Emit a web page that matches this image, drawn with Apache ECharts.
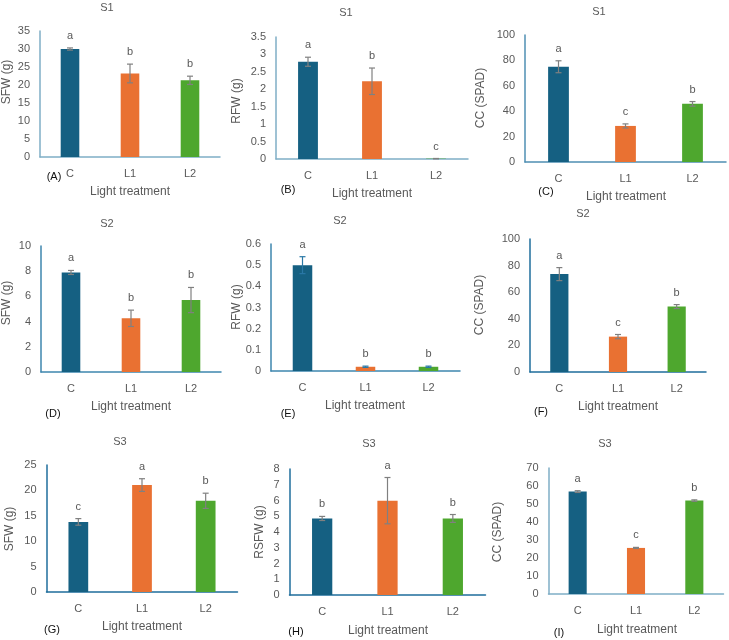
<!DOCTYPE html>
<html><head><meta charset="utf-8">
<script src="https://cdn.jsdelivr.net/npm/echarts@6/dist/echarts.min.js"></script>
<style>html,body{margin:0;padding:0;background:#fff}#c{width:729px;height:640px}</style>
</head><body><div id="c"></div>
<script>
// ---------- data ----------
const categories = ['C', 'L1', 'L2'];
const panelTags = ['(A)', '(B)', '(C)', '(D)', '(E)', '(F)', '(G)', '(H)', '(I)'];
const panelTitles = ['S1', 'S1', 'S1', 'S2', 'S2', 'S2', 'S3', 'S3', 'S3'];
const yNames = ['SFW (g)', 'RFW (g)', 'CC (SPAD)', 'SFW (g)', 'RFW (g)', 'CC (SPAD)', 'SFW (g)', 'RSFW (g)', 'CC (SPAD)'];
const xName = 'Light treatment';

const sfwS1 = [30.0, 23.2, 21.3];   const sfwS1Err = [0.3, 2.6, 1.15];  const sfwS1Let = ['a', 'b', 'b'];
const rfwS1 = [2.79, 2.23, 0.01];   const rfwS1Err = [0.13, 0.38, 0.005]; const rfwS1Let = ['a', 'b', 'c'];
const ccS1  = [75.0, 28.4, 45.8];   const ccS1Err  = [4.7, 1.6, 1.8];   const ccS1Let  = ['a', 'c', 'b'];
const sfwS2 = [7.9, 4.26, 5.71];    const sfwS2Err = [0.16, 0.65, 1.0]; const sfwS2Let = ['a', 'b', 'b'];
const rfwS2 = [0.50, 0.02, 0.02];   const rfwS2Err = [0.04, 0.003, 0.003]; const rfwS2Let = ['a', 'b', 'b'];
const ccS2  = [73.6, 26.6, 49.2];   const ccS2Err  = [4.9, 1.6, 1.5];   const ccS2Let  = ['a', 'c', 'b'];
const sfwS3 = [13.8, 21.05, 17.95]; const sfwS3Err = [0.65, 1.25, 1.5]; const sfwS3Let = ['c', 'a', 'b'];
const rsfwS3 = [4.86, 5.99, 4.86];  const rsfwS3Err = [0.13, 1.47, 0.25]; const rsfwS3Let = ['b', 'a', 'b'];
const ccS3  = [56.9, 25.6, 51.9];   const ccS3Err  = [0.5, 0.3, 0.4];   const ccS3Let  = ['a', 'c', 'b'];

const yMaxes = [35, 3.5, 100, 10, 0.6, 100, 25, 8, 70];
const yIntervals = [5, 0.5, 20, 2, 0.1, 20, 5, 1, 10];

const means = [sfwS1, rfwS1, ccS1, sfwS2, rfwS2, ccS2, sfwS3, rsfwS3, ccS3];
const errs = [sfwS1Err, rfwS1Err, ccS1Err, sfwS2Err, rfwS2Err, ccS2Err, sfwS3Err, rsfwS3Err, ccS3Err];
const lets = [sfwS1Let, rfwS1Let, ccS1Let, sfwS2Let, rfwS2Let, ccS2Let, sfwS3Let, rsfwS3Let, ccS3Let];

// ---------- layout / style ----------
const barColors = ['#156082', '#E97132', '#4EA72E'];
const grids = [
  {left: 40, top: 31, width: 180, height: 126},
  {left: 276, top: 37, width: 192, height: 122},
  {left: 525, top: 35, width: 201, height: 127},
  {left: 41, top: 246, width: 180, height: 126},
  {left: 271, top: 244, width: 189, height: 127},
  {left: 530, top: 239, width: 176, height: 133},
  {left: 46.5, top: 465, width: 191, height: 127},
  {left: 289.5, top: 469, width: 196, height: 126},
  {left: 548.5, top: 468, width: 175, height: 126}
];
const axisColors = ['#7FAEC6', '#7FAEC6', '#4F8FB3', '#3E86AE', '#3E86AE', '#1F6E9C', '#1F6E9C', '#1F6E9C', '#7FAEC6'];
const errColors = ['#808080', '#808080', '#808080', '#808080', '#2A78A6', '#808080', '#808080', '#808080', '#808080'];
const titlePos = [[107, 8], [346, 13], [599, 12], [107, 224], [340, 221], [583, 214], [120, 442], [369, 444], [605, 444]];
const yNamePos = [[7, 82], [237, 101], [481, 98], [7, 303], [237, 307], [480, 305], [10, 529], [260, 532], [498, 532]];
const xNamePos = [[130, 192], [372, 194], [626, 197], [131, 407], [365, 406], [618, 407], [142, 627], [388, 631], [637, 630]];
const tagPos = [[54, 177], [288, 190], [546, 192], [53, 414], [288, 414], [541, 412], [52, 630], [296, 632], [559, 633]];

const FONT = '"Liberation Sans", Arial, sans-serif';
const TXT = '#595959';

const chart = echarts.init(document.getElementById('c'), null, {renderer: 'canvas'});
const option = {
  animation: false,
  backgroundColor: '#fff',
  textStyle: {fontFamily: FONT},
  grid: grids.map(g => Object.assign({containLabel: false}, g)),
  xAxis: grids.map((g, i) => ({
    type: 'category', gridIndex: i, data: categories,
    axisLine: {lineStyle: {color: axisColors[i], width: 1.5}},
    axisTick: {show: false},
    axisLabel: {color: TXT, fontSize: 11, margin: 11, fontFamily: FONT}
  })),
  yAxis: grids.map((g, i) => ({
    type: 'value', gridIndex: i, min: 0, max: yMaxes[i], interval: yIntervals[i],
    axisLine: {show: true, lineStyle: {color: axisColors[i], width: 1.5}},
    axisTick: {show: false},
    splitLine: {show: false},
    axisLabel: {color: TXT, fontSize: 11, margin: 10, fontFamily: FONT}
  })),
  series: [],
  graphic: []
};

means.forEach((vals, i) => {
  option.series.push({
    type: 'bar', xAxisIndex: i, yAxisIndex: i, barWidth: '31%',
    data: vals.map((v, k) => ({value: v, itemStyle: {color: barColors[k]}})),
    z: 2
  });
  option.series.push({
    type: 'custom', xAxisIndex: i, yAxisIndex: i, z: 5,
    data: vals.map((v, k) => [k, v, errs[i][k], lets[i][k]]),
    renderItem: (params, api) => {
      const k = api.value(0), m = api.value(1), e = api.value(2);
      const top = api.coord([k, m + e]);
      const bot = api.coord([k, Math.max(0, m - e)]);
      const x = top[0], c = 3;
      const st = {stroke: errColors[i], lineWidth: 1.2};
      return {type: 'group', children: [
        {type: 'line', shape: {x1: x, y1: top[1], x2: x, y2: bot[1]}, style: st},
        {type: 'line', shape: {x1: x - c, y1: top[1], x2: x + c, y2: top[1]}, style: st},
        {type: 'line', shape: {x1: x - c, y1: bot[1], x2: x + c, y2: bot[1]}, style: st},
        {type: 'text', x: x, y: top[1] - 12, style: {text: lets[i][k], fill: TXT, fontSize: 11, fontFamily: FONT, align: 'center', verticalAlign: 'middle'}}
      ]};
    }
  });
  option.graphic.push(
    {type: 'text', x: titlePos[i][0], y: titlePos[i][1], style: {text: panelTitles[i], fill: TXT, fontSize: 11, fontFamily: FONT, align: 'center', verticalAlign: 'middle'}},
    {type: 'text', x: yNamePos[i][0], y: yNamePos[i][1], rotation: Math.PI / 2, style: {text: yNames[i], fill: TXT, fontSize: 12, fontFamily: FONT, align: 'center', verticalAlign: 'middle'}},
    {type: 'text', x: xNamePos[i][0], y: xNamePos[i][1], style: {text: xName, fill: TXT, fontSize: 12, fontFamily: FONT, align: 'center', verticalAlign: 'middle'}},
    {type: 'text', x: tagPos[i][0], y: tagPos[i][1], style: {text: panelTags[i], fill: '#111', fontSize: 11, fontFamily: FONT, align: 'center', verticalAlign: 'middle'}}
  );
});

chart.setOption(option);
</script>
</body></html>
